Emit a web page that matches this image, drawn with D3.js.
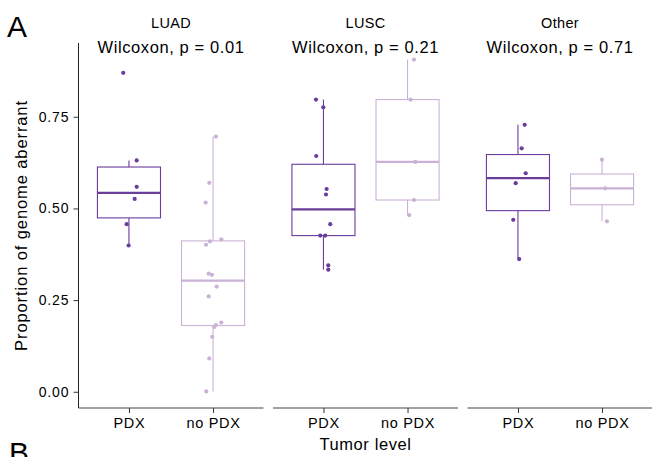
<!DOCTYPE html>
<html>
<head>
<meta charset="utf-8">
<script src="https://cdn.jsdelivr.net/npm/d3@7"></script>
<style>
  body { margin: 0; background: #fff; }
  text { font-family: "Liberation Sans", Arial, sans-serif; fill: #000; }
</style>
</head>
<body>
<div id="chart"></div>
<script>
// Panels, p-values and tumor levels
var panels  = ["LUAD", "LUSC", "Other"];
var pValues = ["0.01", "0.21", "0.71"];
var levels  = ["PDX", "no PDX"];
var yTicks  = [0, 0.25, 0.5, 0.75];

// Proportion of genome aberrant, per panel and level
var luadPDX   = [0.870, 0.631, 0.559, 0.526, 0.457, 0.399];
var luadNoPDX = [0.696, 0.570, 0.516, 0.416, 0.410, 0.401, 0.322, 0.319, 0.287, 0.260, 0.189, 0.182, 0.177, 0.150, 0.091, 0.001];
var luscPDX   = [0.797, 0.776, 0.643, 0.553, 0.538, 0.457, 0.426, 0.426, 0.345, 0.333];
var luscNoPDX = [0.906, 0.797, 0.627, 0.523, 0.482];
var othPDX    = [0.728, 0.664, 0.596, 0.569, 0.469, 0.362];
var othNoPDX  = [0.633, 0.555, 0.465];

// Horizontal jitter of each point (in category units)
var luadPDXJit   = [-0.068, 0.092, 0.092, 0.068, -0.027, -0.004];
var luadNoPDXJit = [0.034, -0.045, -0.088, 0.098, -0.037, -0.084, -0.052, -0.013, 0.043, -0.052, 0.098, 0.034, 0.014, -0.010, -0.045, -0.081];
var luscPDXJit   = [-0.089, -0.002, -0.086, 0.038, 0.030, 0.081, -0.038, 0.021, 0.057, 0.057];
var luscNoPDXJit = [0.076, 0.037, 0.092, 0.076, 0.020];
var othPDXJit    = [0.080, 0.044, 0.092, -0.027, -0.056, 0.015];
var othNoPDXJit  = [-0.001, 0.038, 0.058];

var values  = [[luadPDX, luadNoPDX], [luscPDX, luscNoPDX], [othPDX, othNoPDX]];
var jitters = [[luadPDXJit, luadNoPDXJit], [luscPDXJit, luscNoPDXJit], [othPDXJit, othNoPDXJit]];

var colors = d3.scaleOrdinal().domain(levels).range(["#6A3D9A", "#CAB2D6"]);

var W = 652, H = 457;
var svg = d3.select("#chart").append("svg")
    .attr("width", W).attr("height", H);

// Layout
var plotLeft = 78.5, plotRight = 652.5, plotTop = 43, plotBottom = 408;
var gap = 9.5;
var pw = (plotRight - plotLeft - 2 * gap) / 3;

var panelX = d3.scaleBand().domain(panels)
    .range([plotLeft, plotRight])
    .paddingInner(gap / (pw + gap)).paddingOuter(0);

var x = d3.scalePoint().domain(levels).range([0, panelX.bandwidth()]).padding(0.6);
var step = x.step();

// y domain from data with ggplot-like 5% expansion
var all = d3.merge(values.map(function(p) { return d3.merge(p); }));
var yMin = d3.min(all), yMax = d3.max(all), ext = (yMax - yMin) * 0.05;
var y = d3.scaleLinear().domain([yMin - ext, yMax + ext]).range([plotBottom, plotTop]);

// Box stats (R type 7 quantiles, Tukey whiskers)
function boxStats(v) {
  var s = v.slice().sort(d3.ascending);
  var q1 = d3.quantile(s, 0.25), med = d3.quantile(s, 0.5), q3 = d3.quantile(s, 0.75);
  var iqr = q3 - q1;
  var lo = d3.min(s.filter(function(d) { return d >= q1 - 1.5 * iqr; }));
  var hi = d3.max(s.filter(function(d) { return d <= q3 + 1.5 * iqr; }));
  return { q1: q1, med: med, q3: q3, lo: lo, hi: hi };
}

// Y axis (left panel only)
var yAxis = svg.append("g")
    .attr("transform", "translate(" + plotLeft + ",0)")
    .call(d3.axisLeft(y).tickValues(yTicks).tickFormat(d3.format(".2f")).tickSize(5).tickPadding(4));
yAxis.select(".domain").attr("d", "M0," + plotTop + "V" + plotBottom).attr("stroke", "#222");
yAxis.selectAll(".tick line").attr("stroke", "#333");
yAxis.selectAll(".tick text").attr("font-size", 14).attr("letter-spacing", "0.9px").attr("fill", "#222");

panels.forEach(function(p, i) {
  var g = svg.append("g").attr("transform", "translate(" + panelX(p) + ",0)");

  // Strip title
  g.append("text").attr("x", panelX.bandwidth() / 2).attr("y", 27.5)
      .attr("text-anchor", "middle").attr("font-size", 14.5).attr("letter-spacing", "0.3px")
      .text(p);

  // Boxes, whiskers, points
  levels.forEach(function(l, j) {
    var v = values[i][j], jit = jitters[i][j], st = boxStats(v);
    var cx = x(l), bw = step * 0.75, col = colors(l);
    var bg = g.append("g");

    bg.append("line").attr("x1", cx).attr("x2", cx)
        .attr("y1", y(st.q3)).attr("y2", y(st.hi))
        .attr("stroke", col).attr("stroke-width", 1.1);
    bg.append("line").attr("x1", cx).attr("x2", cx)
        .attr("y1", y(st.q1)).attr("y2", y(st.lo))
        .attr("stroke", col).attr("stroke-width", 1.1);
    bg.append("rect").attr("x", cx - bw / 2).attr("width", bw)
        .attr("y", y(st.q3)).attr("height", y(st.q1) - y(st.q3))
        .attr("fill", "#fff").attr("stroke", col).attr("stroke-width", 1.1);
    bg.append("line").attr("x1", cx - bw / 2).attr("x2", cx + bw / 2)
        .attr("y1", y(st.med)).attr("y2", y(st.med))
        .attr("stroke", col).attr("stroke-width", 2.2);

    bg.selectAll("circle").data(v).enter().append("circle")
        .attr("cx", function(d, k) { return cx + jit[k] * step; })
        .attr("cy", function(d) { return y(d); })
        .attr("r", 2.1)
        .attr("fill", col);
  });

  // Wilcoxon label
  g.append("text").attr("x", panelX.bandwidth() / 2).attr("y", 52.5)
      .attr("text-anchor", "middle").attr("font-size", 16.5).attr("letter-spacing", "0.6px")
      .text("Wilcoxon, p = " + pValues[i]);

  // Bottom axis
  var xa = g.append("g").attr("transform", "translate(0," + plotBottom + ")")
      .call(d3.axisBottom(x).tickSize(5).tickPadding(5));
  xa.select(".domain").attr("d", "M0,0H" + panelX.bandwidth()).attr("stroke", "#444").attr("stroke-width", 1.2);
  xa.selectAll(".tick line").attr("stroke", "#333");
  xa.selectAll(".tick text").attr("font-size", 14.5).attr("letter-spacing", "0.7px").attr("fill", "#222");
});

// Axis titles
svg.append("text").attr("x", panelX("LUSC") + panelX.bandwidth() / 2).attr("y", 450)
    .attr("text-anchor", "middle").attr("font-size", 16.5).attr("letter-spacing", "0.6px")
    .text("Tumor level");
svg.append("text")
    .attr("transform", "translate(27," + ((plotTop + plotBottom) / 2) + ") rotate(-90)")
    .attr("text-anchor", "middle").attr("font-size", 16.5).attr("letter-spacing", "0.9px")
    .text("Proportion of genome aberrant");

// Figure panel letters
svg.append("text").attr("x", 7).attr("y", 37).attr("font-size", 30).text("A");
svg.append("text").attr("x", 9).attr("y", 463).attr("font-size", 30).text("B");
</script>
</body>
</html>
